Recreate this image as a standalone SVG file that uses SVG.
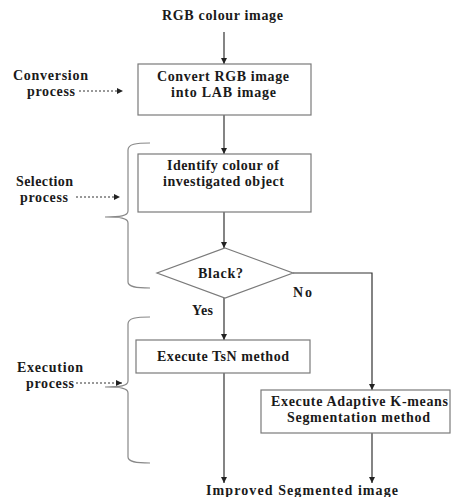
<svg xmlns="http://www.w3.org/2000/svg" width="451" height="497" viewBox="0 0 451 497">
<style>
text{font-family:"Liberation Serif","Times New Roman",serif;font-weight:bold;font-size:14px;fill:#1a1a1a}
.c{text-anchor:middle}
.box{fill:#fff;stroke:#7a7a7a;stroke-width:1.2}
.ln{fill:none;stroke:#333;stroke-width:1.2}
.ds{fill:none;stroke:#333;stroke-width:1;stroke-dasharray:2,2}
.br{fill:none;stroke:#888;stroke-width:1.2}
</style>
<defs>
<marker id="ah" viewBox="0 0 10 10" refX="10" refY="5" markerWidth="6" markerHeight="6" markerUnits="userSpaceOnUse" orient="auto"><path d="M0,0L10,5L0,10z" fill="#222"/></marker>
</defs>
<rect width="451" height="497" fill="#fff"/>
<g id="connectors">
<line class="ln" x1="224" y1="32" x2="224" y2="64" marker-end="url(#ah)"/>
<line class="ln" x1="224" y1="115" x2="224" y2="154" marker-end="url(#ah)"/>
<line class="ln" x1="224" y1="212" x2="224" y2="248" marker-end="url(#ah)"/>
<line class="ln" x1="224" y1="298" x2="224" y2="340" marker-end="url(#ah)"/>
<polyline class="ln" points="293,273 372,273 372,390" marker-end="url(#ah)"/>
<line class="ln" x1="224" y1="373" x2="224" y2="483" marker-end="url(#ah)"/>
<line class="ln" x1="372" y1="433" x2="372" y2="483" marker-end="url(#ah)"/>
<line class="ds" x1="79" y1="91" x2="123" y2="91" marker-end="url(#ah)"/>
<line class="ds" x1="76" y1="197" x2="120" y2="197" marker-end="url(#ah)"/>
<line class="ds" x1="76" y1="383" x2="122" y2="383" marker-end="url(#ah)"/>
</g>
<g id="brace-selection"><path class="br" d="M150,143 C136,143 128,144 128,150 L128,211 C128,216 120,217 105,217 C120,217 128,218 128,223 L128,282 C128,287 136,288 150,288"/></g>
<g id="brace-execution"><path class="br" d="M150,317 C136,317 128,318 128,324 L128,381 C128,386 120,387 105,387 C120,387 128,388 128,393 L128,457 C128,462 136,463 150,463"/></g>
<g id="input"><text x="162" y="20" textLength="121" lengthAdjust="spacing">RGB colour image</text></g>
<g id="convert"><rect class="box" x="138" y="64" width="173" height="51"/><text x="157" y="81" textLength="132" lengthAdjust="spacing">Convert RGB image</text><text x="171" y="97" textLength="105" lengthAdjust="spacing">into LAB image</text></g>
<g id="identify"><rect class="box" x="138" y="154" width="173" height="58"/><text x="167" y="170" textLength="112" lengthAdjust="spacing">Identify colour of</text><text x="163" y="186" textLength="121" lengthAdjust="spacing">investigated object</text></g>
<g id="black"><polygon class="box" points="225,248 293,273 225,298 157,273"/><text x="198" y="278" textLength="45" lengthAdjust="spacing">Black?</text></g>
<g id="tsn"><rect class="box" x="136" y="340" width="174" height="33"/><text x="157" y="361" textLength="132" lengthAdjust="spacing">Execute TsN method</text></g>
<g id="kmeans"><rect class="box" x="261" y="390" width="189" height="43"/><text x="271" y="406" textLength="177" lengthAdjust="spacing">Execute Adaptive K-means</text><text x="287" y="422" textLength="143" lengthAdjust="spacing">Segmentation method</text></g>
<g id="output"><text x="206" y="495" textLength="192" lengthAdjust="spacing">Improved Segmented image</text></g>
<g id="labels">
<text x="13" y="80" textLength="75" lengthAdjust="spacing">Conversion</text><text x="27" y="96" textLength="48" lengthAdjust="spacing">process</text>
<text x="16" y="186" textLength="57" lengthAdjust="spacing">Selection</text><text x="20" y="202" textLength="48" lengthAdjust="spacing">process</text>
<text x="17" y="372" textLength="66" lengthAdjust="spacing">Execution</text><text x="26" y="388" textLength="48" lengthAdjust="spacing">process</text>
<text x="192" y="315" textLength="21" lengthAdjust="spacing">Yes</text><text x="293" y="297" textLength="19" lengthAdjust="spacing">No</text>
</g>
</svg>
